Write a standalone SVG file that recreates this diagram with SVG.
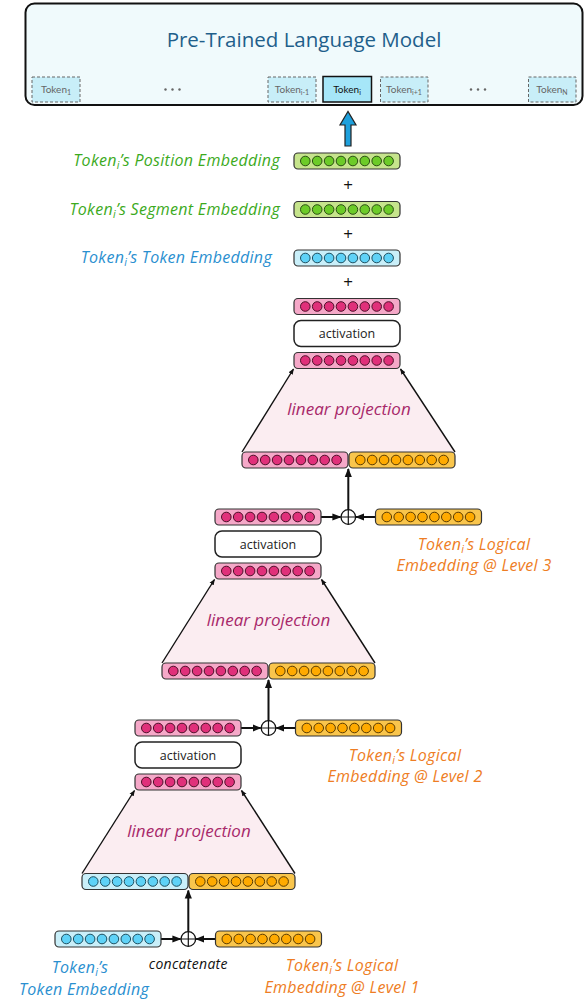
<svg xmlns="http://www.w3.org/2000/svg" xmlns:xlink="http://www.w3.org/1999/xlink" width="585" height="1003" viewBox="0 0 585 1003">
<style>
.bar{stroke:#333;stroke-width:1.2}
.bg{fill:#c6e48c}.bb{fill:#c9eff9}.bp{fill:#f5a8c8}.bo{fill:#f9c54c}
.dg{fill:#6ccb28;stroke:#2a4f12;stroke-width:1}
.db{fill:#5ed2f7;stroke:#1d4f60;stroke-width:1}
.dp{fill:#e0307a;stroke:#4d1029;stroke-width:1}
.do{fill:#ffaa00;stroke:#5a3b00;stroke-width:1}
.act{fill:#fff;stroke:#222;stroke-width:1.5}
.actt{font-family:"Open Sans",Lato,sans-serif;font-size:12.5px;fill:#222;text-anchor:middle}
.trap{fill:#fbedf1;stroke:none}
.side{stroke:#111;stroke-width:1.4;fill:none;marker-end:url(#sm)}
.conn{stroke:#111;stroke-width:2;fill:none;marker-end:url(#big)}
.oplus{fill:#fff;stroke:#111;stroke-width:1.3}
.lp{font-family:"Open Sans",Lato,sans-serif;font-style:italic;font-size:17px;fill:#a8286a;text-anchor:middle}
.lab{font-family:"Open Sans",Lato,sans-serif;font-style:italic;font-size:16px;letter-spacing:0.3px}
.gr{fill:#3caa1d}.bl{fill:#2a8fd0}.or{fill:#ee7d24}
.plus{font-family:"Open Sans",Lato,sans-serif;font-size:17px;fill:#111;text-anchor:middle}
.tok{fill:#c8eef8;stroke:#666;stroke-width:1;stroke-dasharray:3 2}
.tokt{font-family:Lato,"Open Sans",sans-serif;font-size:10px;fill:#666;text-anchor:middle}
.dt{fill:#666}
</style>
<defs>
<g id="dots">
<circle cx="11.3" cy="8" r="4.8"/><circle cx="23.2" cy="8" r="4.8"/><circle cx="35.1" cy="8" r="4.8"/><circle cx="47" cy="8" r="4.8"/><circle cx="58.9" cy="8" r="4.8"/><circle cx="70.8" cy="8" r="4.8"/><circle cx="82.7" cy="8" r="4.8"/><circle cx="94.6" cy="8" r="4.8"/>
</g>
<g id="ell"><circle cx="-7" cy="0" r="1.2"/><circle cx="0" cy="0" r="1.2"/><circle cx="7" cy="0" r="1.2"/></g>
<marker id="big" markerUnits="userSpaceOnUse" viewBox="0 0 10 10" refX="9" refY="5" markerWidth="9" markerHeight="9" orient="auto"><path d="M0,1 L10,5 L0,9 Z" fill="#111"/></marker>
<marker id="sm" markerUnits="userSpaceOnUse" viewBox="0 0 10 10" refX="9" refY="5" markerWidth="6" markerHeight="6" orient="auto"><path d="M0,1 L10,5 L0,9 Z" fill="#111"/></marker>
</defs>

<g id="plm">
<rect x="25.5" y="3.5" width="557" height="101.5" rx="9" fill="#f0fafc" stroke="#111" stroke-width="2"/>
<text x="304" y="47" font-family="'Open Sans',Lato,sans-serif" font-size="20.5" fill="#1f5f8b" text-anchor="middle">Pre-Trained Language Model</text>
<rect class="tok" x="32" y="77" width="48" height="25"/>
<text class="tokt" x="56" y="93">Token<tspan font-size="7" dy="2">1</tspan></text>
<use href="#ell" x="172.5" y="89.5" class="dt"/>
<rect class="tok" x="268" y="77" width="48" height="25"/>
<text class="tokt" x="292" y="93">Token<tspan font-size="7" dy="2">i-1</tspan></text>
<rect x="323" y="76.5" width="48.5" height="25.5" fill="#a6e6f8" stroke="#111" stroke-width="1.5"/>
<text class="tokt" x="347" y="93" style="fill:#111">Token<tspan font-size="7" dy="2">i</tspan></text>
<rect class="tok" x="380.5" y="77" width="47.5" height="25"/>
<text class="tokt" x="404" y="93">Token<tspan font-size="7" dy="2">i+1</tspan></text>
<use href="#ell" x="478" y="89.5" class="dt"/>
<rect class="tok" x="528.5" y="77" width="47.5" height="25"/>
<text class="tokt" x="552" y="93">Token<tspan font-size="7" dy="2">N</tspan></text>
</g>

<g id="connectors">
<path d="M345,146 L345,125 L340,125 L348,111.5 L356,125 L351,125 L351,146 Z" fill="#1ea0dc" stroke="#222" stroke-width="1.2"/>
<polygon class="trap" points="294,368.5 400,368.5 455,452 242,452"/>
<polygon class="trap" points="215,579 321,579 375,663 162,663"/>
<polygon class="trap" points="135,790 241,790 295,873.5 82,873.5"/>
<line class="side" x1="242" y1="452" x2="293.5" y2="369"/>
<line class="side" x1="455" y1="452" x2="400.5" y2="369"/>
<line class="side" x1="162" y1="663" x2="214.5" y2="579.5"/>
<line class="side" x1="375" y1="663" x2="321.5" y2="579.5"/>
<line class="side" x1="82" y1="873.5" x2="134.5" y2="790.5"/>
<line class="side" x1="295" y1="873.5" x2="241.5" y2="790.5"/>
<line class="conn" x1="348.3" y1="509.7" x2="348.3" y2="469"/>
<line class="conn" x1="321" y1="517" x2="340.5" y2="517"/>
<line class="conn" x1="375.5" y1="517" x2="356" y2="517"/>
<line class="conn" x1="268.5" y1="720.7" x2="268.5" y2="680"/>
<line class="conn" x1="241" y1="728" x2="260.7" y2="728"/>
<line class="conn" x1="295.5" y1="728" x2="276.3" y2="728"/>
<line class="conn" x1="188.3" y1="931.7" x2="188.3" y2="890.5"/>
<line class="conn" x1="161" y1="939" x2="180.5" y2="939"/>
<line class="conn" x1="215.5" y1="939" x2="196.1" y2="939"/>
</g>

<g id="pos-emb">
<rect class="bar bg" x="294" y="153" width="106" height="16" rx="4"/>
<use href="#dots" x="294" y="153" class="dg"/>
<text class="lab gr" x="280" y="166" text-anchor="end">Token<tspan font-size="10.5" dy="3">i</tspan><tspan dy="-3">’s Position Embedding</tspan></text>
</g>
<text class="plus" x="348" y="191">+</text>
<g id="seg-emb">
<rect class="bar bg" x="294" y="201.5" width="106" height="16" rx="4"/>
<use href="#dots" x="294" y="201.5" class="dg"/>
<text class="lab gr" x="280" y="214.5" text-anchor="end">Token<tspan font-size="10.5" dy="3">i</tspan><tspan dy="-3">’s Segment Embedding</tspan></text>
</g>
<text class="plus" x="348" y="240">+</text>
<g id="tok-emb">
<rect class="bar bb" x="294" y="250" width="106" height="16" rx="4"/>
<use href="#dots" x="294" y="250" class="db"/>
<text class="lab bl" x="272" y="263" text-anchor="end">Token<tspan font-size="10.5" dy="3">i</tspan><tspan dy="-3">’s Token Embedding</tspan></text>
</g>
<text class="plus" x="348" y="288">+</text>

<g id="out3">
<rect class="bar bp" x="294" y="298.5" width="106" height="16" rx="4"/>
<use href="#dots" x="294" y="298.5" class="dp"/>
</g>
<g id="act3">
<rect class="act" x="294" y="320.5" width="106" height="26" rx="7"/>
<text class="actt" x="347" y="338">activation</text>
</g>
<g id="proj3">
<rect class="bar bp" x="294" y="352.5" width="106" height="16" rx="4"/>
<use href="#dots" x="294" y="352.5" class="dp"/>
<text class="lp" x="349" y="415">linear projection</text>
</g>
<g id="cat3">
<rect class="bar bp" x="242" y="452" width="106" height="16" rx="4"/>
<use href="#dots" x="242" y="452" class="dp"/>
<rect class="bar bo" x="349" y="452" width="106" height="16" rx="4"/>
<use href="#dots" x="349" y="452" class="do"/>
</g>

<g id="row3">
<rect class="bar bp" x="215" y="509" width="106" height="16" rx="4"/>
<use href="#dots" x="215" y="509" class="dp"/>
<circle class="oplus" cx="348.3" cy="517" r="7.3"/>
<path d="M341,517 H355.6 M348.3,509.7 V524.3" stroke="#111" stroke-width="1.2"/>
<rect class="bar bo" x="375.5" y="509" width="106" height="16" rx="4"/>
<use href="#dots" x="375.5" y="509" class="do"/>
<text class="lab or" text-anchor="middle"><tspan x="474" y="550">Token<tspan font-size="10.5" dy="3">i</tspan><tspan dy="-3">’s Logical</tspan></tspan><tspan x="474" y="571">Embedding @ Level 3</tspan></text>
</g>
<g id="act2">
<rect class="act" x="215" y="531" width="106" height="26" rx="7"/>
<text class="actt" x="268" y="548.5">activation</text>
</g>
<g id="proj2">
<rect class="bar bp" x="215" y="563" width="106" height="16" rx="4"/>
<use href="#dots" x="215" y="563" class="dp"/>
<text class="lp" x="268.5" y="626">linear projection</text>
</g>
<g id="cat2">
<rect class="bar bp" x="162" y="663" width="106" height="16" rx="4"/>
<use href="#dots" x="162" y="663" class="dp"/>
<rect class="bar bo" x="269" y="663" width="106" height="16" rx="4"/>
<use href="#dots" x="269" y="663" class="do"/>
</g>

<g id="row2">
<rect class="bar bp" x="135" y="720" width="106" height="16" rx="4"/>
<use href="#dots" x="135" y="720" class="dp"/>
<circle class="oplus" cx="268.5" cy="728" r="7.3"/>
<path d="M261.2,728 H275.8 M268.5,720.7 V735.3" stroke="#111" stroke-width="1.2"/>
<rect class="bar bo" x="295.5" y="720" width="106" height="16" rx="4"/>
<use href="#dots" x="295.5" y="720" class="do"/>
<text class="lab or" text-anchor="middle"><tspan x="405" y="761">Token<tspan font-size="10.5" dy="3">i</tspan><tspan dy="-3">’s Logical</tspan></tspan><tspan x="405" y="782">Embedding @ Level 2</tspan></text>
</g>
<g id="act1">
<rect class="act" x="135" y="742" width="106" height="26" rx="7"/>
<text class="actt" x="188" y="759.5">activation</text>
</g>
<g id="proj1">
<rect class="bar bp" x="135" y="774" width="106" height="16" rx="4"/>
<use href="#dots" x="135" y="774" class="dp"/>
<text class="lp" x="189" y="837">linear projection</text>
</g>
<g id="cat1">
<rect class="bar bb" x="82" y="873.5" width="106" height="16" rx="4"/>
<use href="#dots" x="82" y="873.5" class="db"/>
<rect class="bar bo" x="189" y="873.5" width="106" height="16" rx="4"/>
<use href="#dots" x="189" y="873.5" class="do"/>
</g>

<g id="row1">
<rect class="bar bb" x="55" y="931" width="106" height="16" rx="4"/>
<use href="#dots" x="55" y="931" class="db"/>
<circle class="oplus" cx="188.3" cy="939" r="7.3"/>
<path d="M181,939 H195.6 M188.3,931.7 V946.3" stroke="#111" stroke-width="1.2"/>
<rect class="bar bo" x="215.5" y="931" width="106" height="16" rx="4"/>
<use href="#dots" x="215.5" y="931" class="do"/>
<text x="188.3" y="968.5" font-family="'Open Sans',Lato,sans-serif" font-style="italic" font-size="14" letter-spacing="0.3" fill="#111" text-anchor="middle">concatenate</text>
<text class="lab bl" text-anchor="middle"><tspan x="80" y="973">Token<tspan font-size="10.5" dy="3">i</tspan><tspan dy="-3">’s</tspan></tspan><tspan x="84" y="995">Token Embedding</tspan></text>
<text class="lab or" text-anchor="middle"><tspan x="342" y="971">Token<tspan font-size="10.5" dy="3">i</tspan><tspan dy="-3">’s Logical</tspan></tspan><tspan x="342" y="993">Embedding @ Level 1</tspan></text>
</g>
</svg>
